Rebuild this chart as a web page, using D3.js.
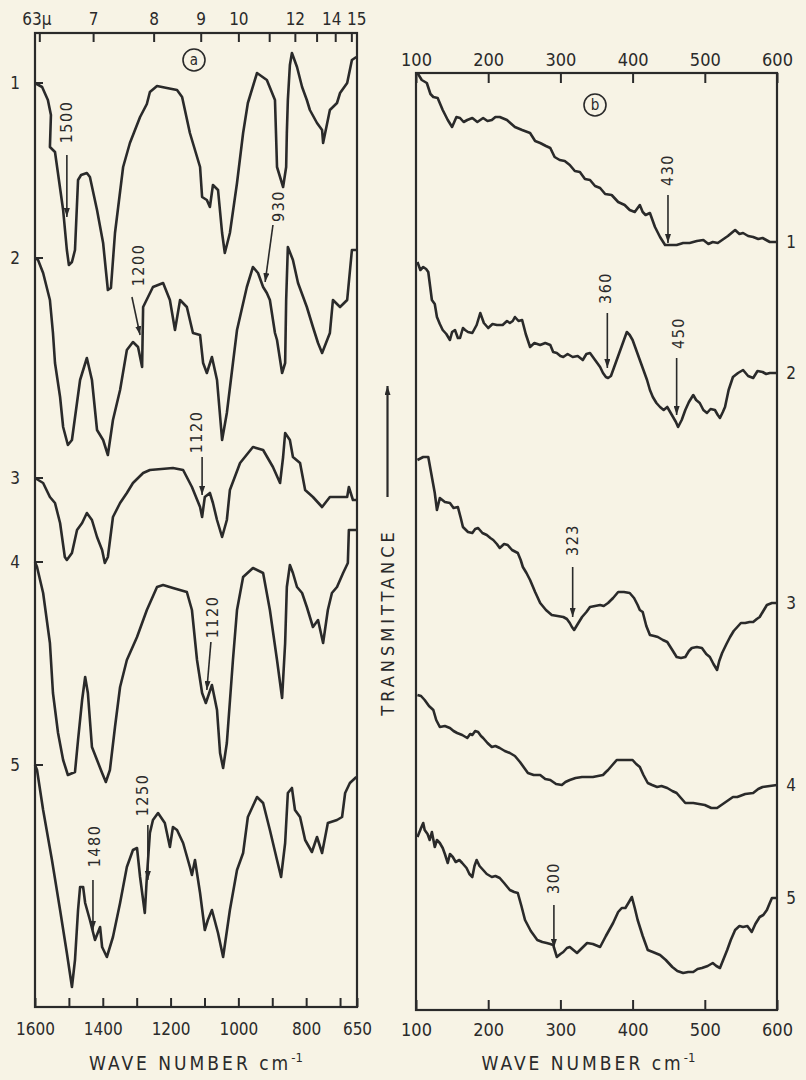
<!DOCTYPE html>
<html>
<head>
<meta charset="utf-8">
<script src="https://cdn.jsdelivr.net/npm/d3@7"></script>
<style>
  body { margin: 0; background: #f7f3e5; }
  svg text { font-family: "DejaVu Sans Condensed", "DejaVu Sans", sans-serif; fill: #2a2a2a; }
</style>
</head>
<body>
<svg id="chart"></svg>
<script>
// ---- data: panel (a), wave number 1600..650 cm-1 ----
const wnTicksA = [1600, 1500, 1400, 1300, 1200, 1100, 1000, 900, 800, 700, 650];
const wnLabelsA = [1600, 1400, 1200, 1000, 800, 650];
const micronTicks = [6.3, 7, 8, 9, 10, 11, 12, 13, 14, 15];
const micronLabels = ['63\u03bc', '7', '8', '9', '10', '', '12', '', '14', '15'];

// [wave number, transmittance (arbitrary units, stacked)]
const specA1 = [[1600,92.4],[1579,92.0],[1562,90.7],[1553,89.2],[1556,86.0],[1541,85.5],[1517,79.7],[1506,75.7],[1500,74.2],[1491,74.5],[1482,75.7],[1473,82.7],[1464,83.2],[1447,83.4],[1438,83.0],[1417,79.7],[1399,76.4],[1391,73.7],[1385,71.7],[1376,71.9],[1364,77.4],[1340,84.0],[1320,86.4],[1290,89.0],[1270,90.3],[1261,91.5],[1240,92.1],[1211,91.9],[1181,91.7],[1166,91.0],[1143,87.4],[1113,84.0],[1107,81.0],[1093,80.7],[1084,80.0],[1075,82.2],[1060,81.7],[1048,77.4],[1040,75.4],[1025,77.4],[1004,82.4],[986,87.4],[972,90.4],[945,93.4],[916,92.7],[892,90.7],[889,87.4],[886,84.0],[868,82.0],[859,84.0],[857,87.4],[854,90.7],[848,94.2],[842,95.4],[827,94.0],[812,92.0],[798,90.7],[789,89.7],[768,88.4],[753,87.7],[750,86.4],[730,89.7],[709,90.4],[700,91.4],[679,92.4],[665,94.7],[652,95.0]];
const specA2 = [[1600,74.9],[1591,74.7],[1576,73.4],[1556,70.7],[1547,67.4],[1541,64.4],[1526,61.0],[1517,58.0],[1503,56.2],[1491,56.7],[1467,62.7],[1447,64.9],[1432,62.7],[1417,57.7],[1399,56.7],[1385,55.2],[1370,58.7],[1349,61.7],[1329,65.7],[1311,66.5],[1296,66.0],[1284,64.0],[1281,70.0],[1252,72.0],[1222,72.4],[1202,70.7],[1187,67.7],[1172,70.7],[1152,70.0],[1134,67.4],[1113,67.2],[1104,64.4],[1093,63.4],[1078,65.0],[1063,62.7],[1048,56.7],[1034,59.4],[1016,64.4],[1004,67.7],[975,72.0],[957,74.0],[942,73.4],[927,72.0],[916,71.4],[907,70.7],[892,67.4],[886,66.7],[871,63.4],[862,64.4],[859,70.7],[854,76.0],[839,74.7],[824,72.4],[798,70.0],[780,68.0],[765,66.4],[753,65.4],[730,67.4],[721,70.7],[700,70.0],[679,70.7],[665,75.7],[652,75.7]];
const specA3 = [[1600,52.9],[1576,52.4],[1556,51.0],[1541,50.4],[1526,48.4],[1512,45.0],[1506,44.7],[1491,45.4],[1476,47.7],[1461,48.4],[1447,49.4],[1432,48.7],[1417,47.0],[1402,45.7],[1394,44.4],[1385,45.0],[1370,49.0],[1349,50.4],[1329,51.4],[1311,52.4],[1281,53.4],[1261,53.7],[1193,53.9],[1163,53.7],[1137,52.0],[1113,50.0],[1107,49.0],[1099,51.0],[1084,51.4],[1075,50.4],[1063,48.7],[1048,47.0],[1034,48.7],[1025,51.7],[995,54.4],[957,56.0],[927,55.7],[898,54.0],[877,52.4],[868,55.0],[862,57.4],[848,56.7],[839,55.0],[818,54.4],[803,51.7],[780,51.0],[753,50.0],[730,51.0],[679,51.0],[674,52.0],[662,50.7],[652,50.7]];
const specA4 = [[1600,44.5],[1594,44.0],[1576,41.4],[1556,36.4],[1547,31.4],[1532,27.4],[1517,24.7],[1503,23.2],[1482,23.5],[1473,26.7],[1461,30.7],[1452,33.0],[1444,31.4],[1432,26.0],[1417,24.7],[1402,23.4],[1391,22.5],[1379,23.7],[1364,28.0],[1349,32.0],[1329,34.7],[1299,37.0],[1270,39.7],[1240,42.0],[1222,42.2],[1193,41.9],[1152,41.5],[1137,39.7],[1122,34.7],[1107,31.4],[1096,30.4],[1078,32.2],[1063,29.7],[1054,25.4],[1045,23.9],[1034,26.4],[1016,34.7],[1004,39.7],[986,43.0],[957,43.9],[927,43.4],[907,39.7],[886,34.7],[871,30.9],[862,36.4],[857,42.0],[848,44.2],[839,43.4],[827,42.0],[812,41.4],[798,40.0],[780,38.0],[765,38.7],[750,36.4],[736,39.7],[724,41.4],[709,42.0],[691,43.4],[677,44.4],[674,47.7],[662,47.7],[652,47.7]];
const specA5 = [[1600,24.2],[1594,23.7],[1576,19.7],[1550,14.7],[1526,9.7],[1506,5.4],[1491,2.0],[1482,4.7],[1473,9.7],[1467,12.0],[1458,12.0],[1452,10.4],[1438,8.7],[1423,6.7],[1408,8.0],[1402,6.0],[1388,5.0],[1370,7.0],[1349,10.4],[1329,14.0],[1311,15.7],[1299,15.9],[1290,13.0],[1276,9.4],[1270,13.0],[1261,17.4],[1252,18.7],[1237,19.4],[1217,18.4],[1202,16.0],[1193,18.0],[1181,17.7],[1163,16.4],[1143,14.0],[1137,13.2],[1128,14.7],[1113,11.4],[1099,7.7],[1090,8.7],[1078,9.7],[1060,7.4],[1045,5.0],[1025,9.7],[1004,13.7],[986,15.4],[972,19.0],[945,21.0],[927,20.4],[907,17.7],[886,14.7],[874,13.0],[862,16.4],[854,21.4],[842,21.9],[833,19.7],[818,19.0],[803,16.7],[783,15.5],[768,17.0],[753,15.4],[736,18.4],[709,18.7],[694,19.0],[685,21.4],[671,22.4],[652,23.0]];

// [label, wn text, T text, wn from, T from, wn to, T to]
const notesA = [
  ['1500', 1506, 88.5, 1506, 85.2, 1506, 79.0],
  ['1200', 1296, 74.2, 1314, 71.0, 1290, 67.2],
  ['930', 883, 80.1, 898, 78.2, 921, 72.5],
  ['1120', 1125, 57.5, 1107, 55.0, 1107, 51.2],
  ['1120', 1075, 39.0, 1081, 36.5, 1093, 31.7],
  ['1480', 1423, 16.1, 1429, 12.7, 1429, 7.7],
  ['1250', 1284, 21.2, 1267, 18.2, 1267, 12.7]
];

// ---- data: panel (b), wave number 100..600 cm-1 ----
const wnTicksB = [100, 200, 300, 400, 500, 600];

const specB1 = [[102,93.7],[108,93.0],[115,92.7],[120,91.6],[124,91.3],[130,91.2],[137,90.0],[144,89.0],[150,88.3],[156,89.3],[161,89.2],[166,88.8],[171,89.0],[178,89.2],[185,88.8],[193,89.2],[199,88.9],[205,89.0],[210,89.3],[216,89.3],[226,89.0],[237,88.3],[247,88.0],[258,87.7],[265,86.9],[272,86.7],[280,86.4],[286,86.2],[292,85.3],[299,85.0],[306,84.9],[313,84.5],[320,83.9],[327,83.8],[334,83.1],[341,83.0],[348,82.4],[355,82.2],[362,81.6],[371,81.5],[380,80.8],[389,80.5],[396,80.0],[403,79.8],[410,80.5],[414,79.8],[418,79.5],[424,79.7],[431,78.3],[438,77.3],[445,76.5],[461,76.5],[470,76.7],[479,76.7],[489,76.9],[498,77.0],[505,76.6],[511,76.8],[518,76.7],[524,77.0],[532,77.4],[542,78.0],[548,77.6],[553,77.7],[560,77.4],[567,77.3],[574,77.1],[580,77.2],[590,76.8],[600,76.8]];
const specB2 = [[102,74.8],[106,74.0],[110,74.3],[114,74.1],[117,73.8],[122,71.0],[126,70.6],[129,69.3],[133,68.6],[137,68.0],[142,67.6],[147,67.0],[150,67.8],[154,68.0],[158,67.2],[161,67.2],[165,68.2],[168,68.0],[172,67.8],[178,67.7],[184,68.5],[189,69.7],[194,68.7],[200,68.2],[206,68.6],[212,68.5],[220,68.5],[226,68.9],[230,68.7],[234,68.9],[237,69.3],[242,68.9],[247,69.0],[252,67.6],[258,66.3],[264,66.7],[272,66.5],[279,66.7],[286,66.5],[290,65.8],[295,65.7],[300,65.4],[304,65.3],[310,65.6],[317,65.3],[324,65.4],[331,65.0],[336,65.6],[341,65.7],[346,65.2],[351,64.7],[355,64.3],[359,63.7],[363,63.3],[366,63.2],[370,63.4],[373,64.0],[378,65.0],[383,66.0],[388,67.0],[392,67.8],[396,67.5],[400,67.0],[405,66.0],[410,65.0],[415,64.0],[420,63.0],[424,62.0],[428,61.3],[433,60.7],[438,60.3],[443,60.0],[448,60.3],[452,59.8],[456,59.3],[460,58.8],[463,58.3],[468,59.0],[473,60.0],[478,60.8],[484,61.5],[488,61.0],[493,60.7],[498,60.0],[503,59.7],[508,60.1],[514,60.0],[518,59.5],[521,59.2],[525,59.8],[528,60.3],[533,62.0],[539,63.3],[546,63.7],[553,64.0],[560,63.4],[567,63.2],[573,63.9],[580,63.8],[585,63.6],[590,63.7],[600,63.7]];
const specB3 = [[102,55.0],[110,55.3],[117,55.3],[122,53.3],[126,51.7],[129,50.0],[133,51.2],[140,50.8],[147,50.7],[152,50.2],[158,50.3],[162,49.2],[165,48.3],[172,47.8],[178,47.7],[182,48.1],[186,48.2],[192,47.7],[198,47.5],[203,47.2],[207,47.0],[212,46.6],[216,46.2],[222,46.6],[227,46.5],[233,46.0],[241,45.7],[245,45.0],[248,44.3],[253,43.7],[258,43.0],[265,41.8],[272,40.7],[280,40.0],[288,39.5],[296,39.4],[304,39.3],[309,39.1],[313,38.7],[316,38.3],[319,38.0],[324,38.6],[330,39.3],[336,39.8],[341,40.3],[348,40.4],[355,40.5],[360,40.4],[366,40.7],[373,41.2],[380,41.8],[388,41.8],[396,41.7],[402,41.2],[407,40.5],[410,40.0],[414,39.8],[419,38.4],[424,37.5],[430,37.4],[435,37.3],[442,37.0],[448,36.8],[455,36.0],[461,35.3],[467,35.2],[473,35.3],[478,35.9],[482,36.2],[489,36.3],[496,36.2],[502,35.6],[507,35.3],[512,34.6],[517,34.0],[520,34.9],[524,35.7],[530,36.6],[535,37.3],[540,37.9],[545,38.3],[550,38.7],[556,38.7],[562,38.8],[567,38.8],[572,39.1],[576,39.3],[581,39.9],[586,40.5],[593,40.7],[600,40.7]];
const specB4 = [[102,31.5],[107,31.4],[112,31.0],[118,30.4],[124,30.0],[128,29.0],[133,28.3],[140,28.4],[147,28.2],[152,27.9],[157,27.7],[164,27.5],[171,27.2],[175,27.6],[178,27.5],[182,27.9],[186,27.8],[190,27.4],[193,27.2],[199,26.7],[205,26.3],[210,26.4],[216,26.2],[223,25.9],[230,25.7],[237,25.4],[244,24.8],[250,24.2],[255,23.7],[263,23.5],[272,23.5],[279,23.1],[286,23.0],[294,22.6],[302,22.5],[307,22.8],[313,23.0],[321,23.2],[330,23.3],[338,23.3],[345,23.3],[352,23.4],[359,23.5],[363,23.8],[366,24.0],[372,24.5],[378,25.0],[390,25.0],[400,25.0],[405,24.6],[410,24.3],[415,23.5],[421,22.7],[427,22.5],[434,22.3],[440,22.4],[448,22.2],[455,21.9],[461,21.7],[467,21.2],[473,20.7],[478,20.7],[484,20.7],[492,20.6],[500,20.5],[509,20.2],[517,20.2],[525,20.6],[533,21.0],[539,21.3],[545,21.3],[556,21.6],[567,21.7],[574,22.1],[580,22.3],[590,22.4],[600,22.5]];
const specB5 = [[102,17.3],[107,18.2],[110,18.7],[112,18.0],[116,17.6],[119,17.0],[122,17.8],[126,16.3],[129,17.0],[133,16.7],[137,16.2],[140,15.6],[144,14.7],[147,15.6],[151,15.3],[155,14.8],[160,15.0],[164,14.7],[170,14.2],[174,13.6],[178,13.3],[181,14.4],[184,15.0],[188,14.4],[193,14.0],[198,13.6],[205,13.3],[210,13.4],[216,13.2],[222,12.7],[230,12.0],[236,11.8],[241,11.7],[246,10.4],[251,9.0],[259,7.9],[268,7.0],[275,6.8],[281,6.7],[286,6.6],[290,6.5],[293,5.8],[295,5.3],[300,5.6],[304,5.8],[309,6.2],[313,6.3],[318,6.0],[323,5.7],[330,6.2],[337,6.7],[345,6.6],[355,6.3],[363,7.4],[373,8.7],[380,9.8],[385,10.2],[390,10.2],[395,10.8],[399,11.3],[403,10.2],[407,9.0],[414,7.4],[421,6.0],[428,5.8],[438,5.5],[446,5.0],[455,4.3],[462,3.9],[470,3.7],[477,3.8],[484,3.8],[490,4.1],[496,4.2],[504,4.4],[511,4.7],[516,4.4],[521,4.2],[526,5.1],[531,6.0],[536,7.0],[542,8.0],[548,8.4],[553,8.3],[559,8.4],[565,7.8],[570,8.6],[576,9.3],[581,9.5],[586,10.0],[590,10.7],[593,11.2],[600,11.2]];

const notesB = [
  ['430', 449, 84.0, 449, 81.5, 449, 76.7],
  ['360', 363, 72.2, 365, 69.7, 365, 64.2],
  ['450', 463, 67.7, 461, 65.2, 461, 59.5],
  ['323', 317, 47.0, 317, 44.3, 317, 39.3],
  ['300', 290, 13.2, 291, 10.5, 291, 6.2]
];

const curveNames = ['1', '2', '3', '4', '5'];
const spectraA = [specA1, specA2, specA3, specA4, specA5];
const spectraB = [specB1, specB2, specB3, specB4, specB5];

// ---- layout ----
const W = 806, H = 1080;
const INK = '#2a2a2a';
const panelA = { left: 35, right: 357, top: 33, bottom: 1007, tMax: 97.4 };
const panelB = { left: 416, right: 777, top: 73, bottom: 1010, tMax: 93.7 };

const svg = d3.select('#chart').attr('width', W).attr('height', H);

svg.append('defs').append('marker')
  .attr('id', 'head')
  .attr('markerUnits', 'userSpaceOnUse')
  .attr('markerWidth', 9).attr('markerHeight', 6)
  .attr('refX', 9).attr('refY', 3)
  .attr('orient', 'auto')
  .append('path').attr('d', 'M0,0 L9,3 L0,6 Z').attr('fill', INK);

const xA = d3.scaleLinear().domain([1600, 650]).range([panelA.left, panelA.right]);
const yA = d3.scaleLinear().domain([0, panelA.tMax]).range([panelA.bottom, panelA.top]);
const xB = d3.scaleLinear().domain([100, 600]).range([panelB.left, panelB.right]);
const yB = d3.scaleLinear().domain([0, panelB.tMax]).range([panelB.bottom, panelB.top]);

function styleAxis(size) {
  return (g) => {
    g.select('.domain').remove();
    g.selectAll('line').attr('stroke', INK).attr('stroke-width', 2);
    g.selectAll('text').attr('font-size', size).attr('fill', INK);
  };
}

function drawPanel(p, x, y, spectra, notes) {
  const g = svg.append('g');

  const line = d3.line().x((d) => x(d[0])).y((d) => y(d[1]));

  g.selectAll('path.spec')
    .data(spectra)
    .enter()
      .append('path')
      .attr('class', 'spec')
      .attr('fill', 'none')
      .attr('stroke', INK)
      .attr('stroke-width', 2.6)
      .attr('stroke-linejoin', 'round')
      .attr('d', line);

  // annotation arrows
  g.selectAll('line.note')
    .data(notes)
    .enter()
      .append('line')
      .attr('class', 'note')
      .attr('stroke', INK)
      .attr('stroke-width', 1.6)
      .attr('x1', (d) => x(d[3])).attr('y1', (d) => y(d[4]))
      .attr('x2', (d) => x(d[5])).attr('y2', (d) => y(d[6]))
      .attr('marker-end', 'url(#head)');

  g.selectAll('text.note')
    .data(notes)
    .enter()
      .append('text')
      .attr('class', 'note')
      .attr('font-size', 16)
      .attr('letter-spacing', 1.5)
      .attr('text-anchor', 'middle')
      .attr('dominant-baseline', 'central')
      .attr('transform', (d) => `translate(${x(d[1])},${y(d[2])}) rotate(-90)`)
      .text((d) => d[0]);

  g.append('rect')
    .attr('x', p.left).attr('y', p.top)
    .attr('width', p.right - p.left).attr('height', p.bottom - p.top)
    .attr('fill', 'none')
    .attr('stroke', INK)
    .attr('stroke-width', 2.2);
}

drawPanel(panelA, xA, yA, spectraA, notesA);
drawPanel(panelB, xB, yB, spectraB, notesB);

// panel (a) axes
const microns = svg.append('g')
  .attr('transform', `translate(0,${panelA.top})`)
  .call(d3.axisTop(xA)
    .tickValues(micronTicks.map((m) => 10000 / m))
    .tickSize(-9).tickPadding(8)
    .tickFormat((d, i) => micronLabels[i]))
  .call(styleAxis(17));
// hand lettering spreads the crowded 14/15 pair apart
microns.selectAll('text')
  .attr('dx', (d, i) => ({ '14': -4, '15': 5, '63\u03bc': -3 })[micronLabels[i]] || 0);

svg.append('g')
  .attr('transform', `translate(0,${panelA.bottom})`)
  .call(d3.axisBottom(xA)
    .tickValues(wnTicksA)
    .tickSize(-9).tickPadding(16)
    .tickFormat((d) => wnLabelsA.includes(d) ? d : ''))
  .call(styleAxis(17));

// panel (b) axes
svg.append('g')
  .attr('transform', `translate(0,${panelB.top})`)
  .call(d3.axisTop(xB).tickValues(wnTicksB).tickSize(-10).tickPadding(7))
  .call(styleAxis(18));

svg.append('g')
  .attr('transform', `translate(0,${panelB.bottom})`)
  .call(d3.axisBottom(xB).tickValues(wnTicksB).tickSize(-10).tickPadding(13))
  .call(styleAxis(18));

// curve numbers: at start of (a) curves, at end of (b) curves
const startTicks = svg.append('g')
  .selectAll('g')
  .data(spectraA)
  .enter()
    .append('g')
    .attr('transform', (d) => `translate(${panelA.left},${yA(d[0][1])})`);
startTicks.append('line')
  .attr('x2', 8).attr('stroke', INK).attr('stroke-width', 2);
startTicks.append('text')
  .attr('x', -20)
  .attr('font-size', 17)
  .attr('text-anchor', 'middle')
  .attr('dominant-baseline', 'central')
  .text((d, i) => curveNames[i]);

svg.append('g')
  .selectAll('text')
  .data(spectraB)
  .enter()
    .append('text')
    .attr('x', panelB.right + 14)
    .attr('y', (d) => yB(d[d.length - 1][1]))
    .attr('font-size', 17)
    .attr('text-anchor', 'middle')
    .attr('dominant-baseline', 'central')
    .text((d, i) => curveNames[i]);

// circled panel letters
const tags = svg.append('g')
  .selectAll('g')
  .data([['a', 194, 60], ['b', 595, 105]])
  .enter()
    .append('g')
    .attr('transform', (d) => `translate(${d[1]},${d[2]})`);
tags.append('circle').attr('r', 11).attr('fill', 'none').attr('stroke', INK).attr('stroke-width', 1.6);
tags.append('text')
  .attr('font-size', 15)
  .attr('text-anchor', 'middle')
  .attr('dominant-baseline', 'central')
  .text((d) => d[0]);

// axis titles
svg.append('g')
  .selectAll('text')
  .data([(panelA.left + panelA.right) / 2, (panelB.left + panelB.right) / 2 - 8])
  .enter()
    .append('text')
    .attr('x', (d) => d)
    .attr('y', 1070)
    .attr('font-size', 19)
    .attr('letter-spacing', 3)
    .attr('text-anchor', 'middle')
    .text('WAVE NUMBER cm')
    .append('tspan')
      .attr('dy', -8).attr('font-size', 13)
      .attr('letter-spacing', 0)
      .text('-1');

// transmittance label with arrow
const tx = (panelA.right + panelB.left) / 2 + 1;
svg.append('line')
  .attr('x1', tx).attr('y1', 497)
  .attr('x2', tx).attr('y2', 386)
  .attr('stroke', INK).attr('stroke-width', 2.2)
  .attr('marker-end', 'url(#head)');
svg.append('text')
  .attr('transform', `translate(${tx},622) rotate(-90)`)
  .attr('font-size', 18)
  .attr('letter-spacing', 4)
  .attr('text-anchor', 'middle')
  .attr('dominant-baseline', 'central')
  .text('TRANSMITTANCE');
</script>
</body>
</html>
